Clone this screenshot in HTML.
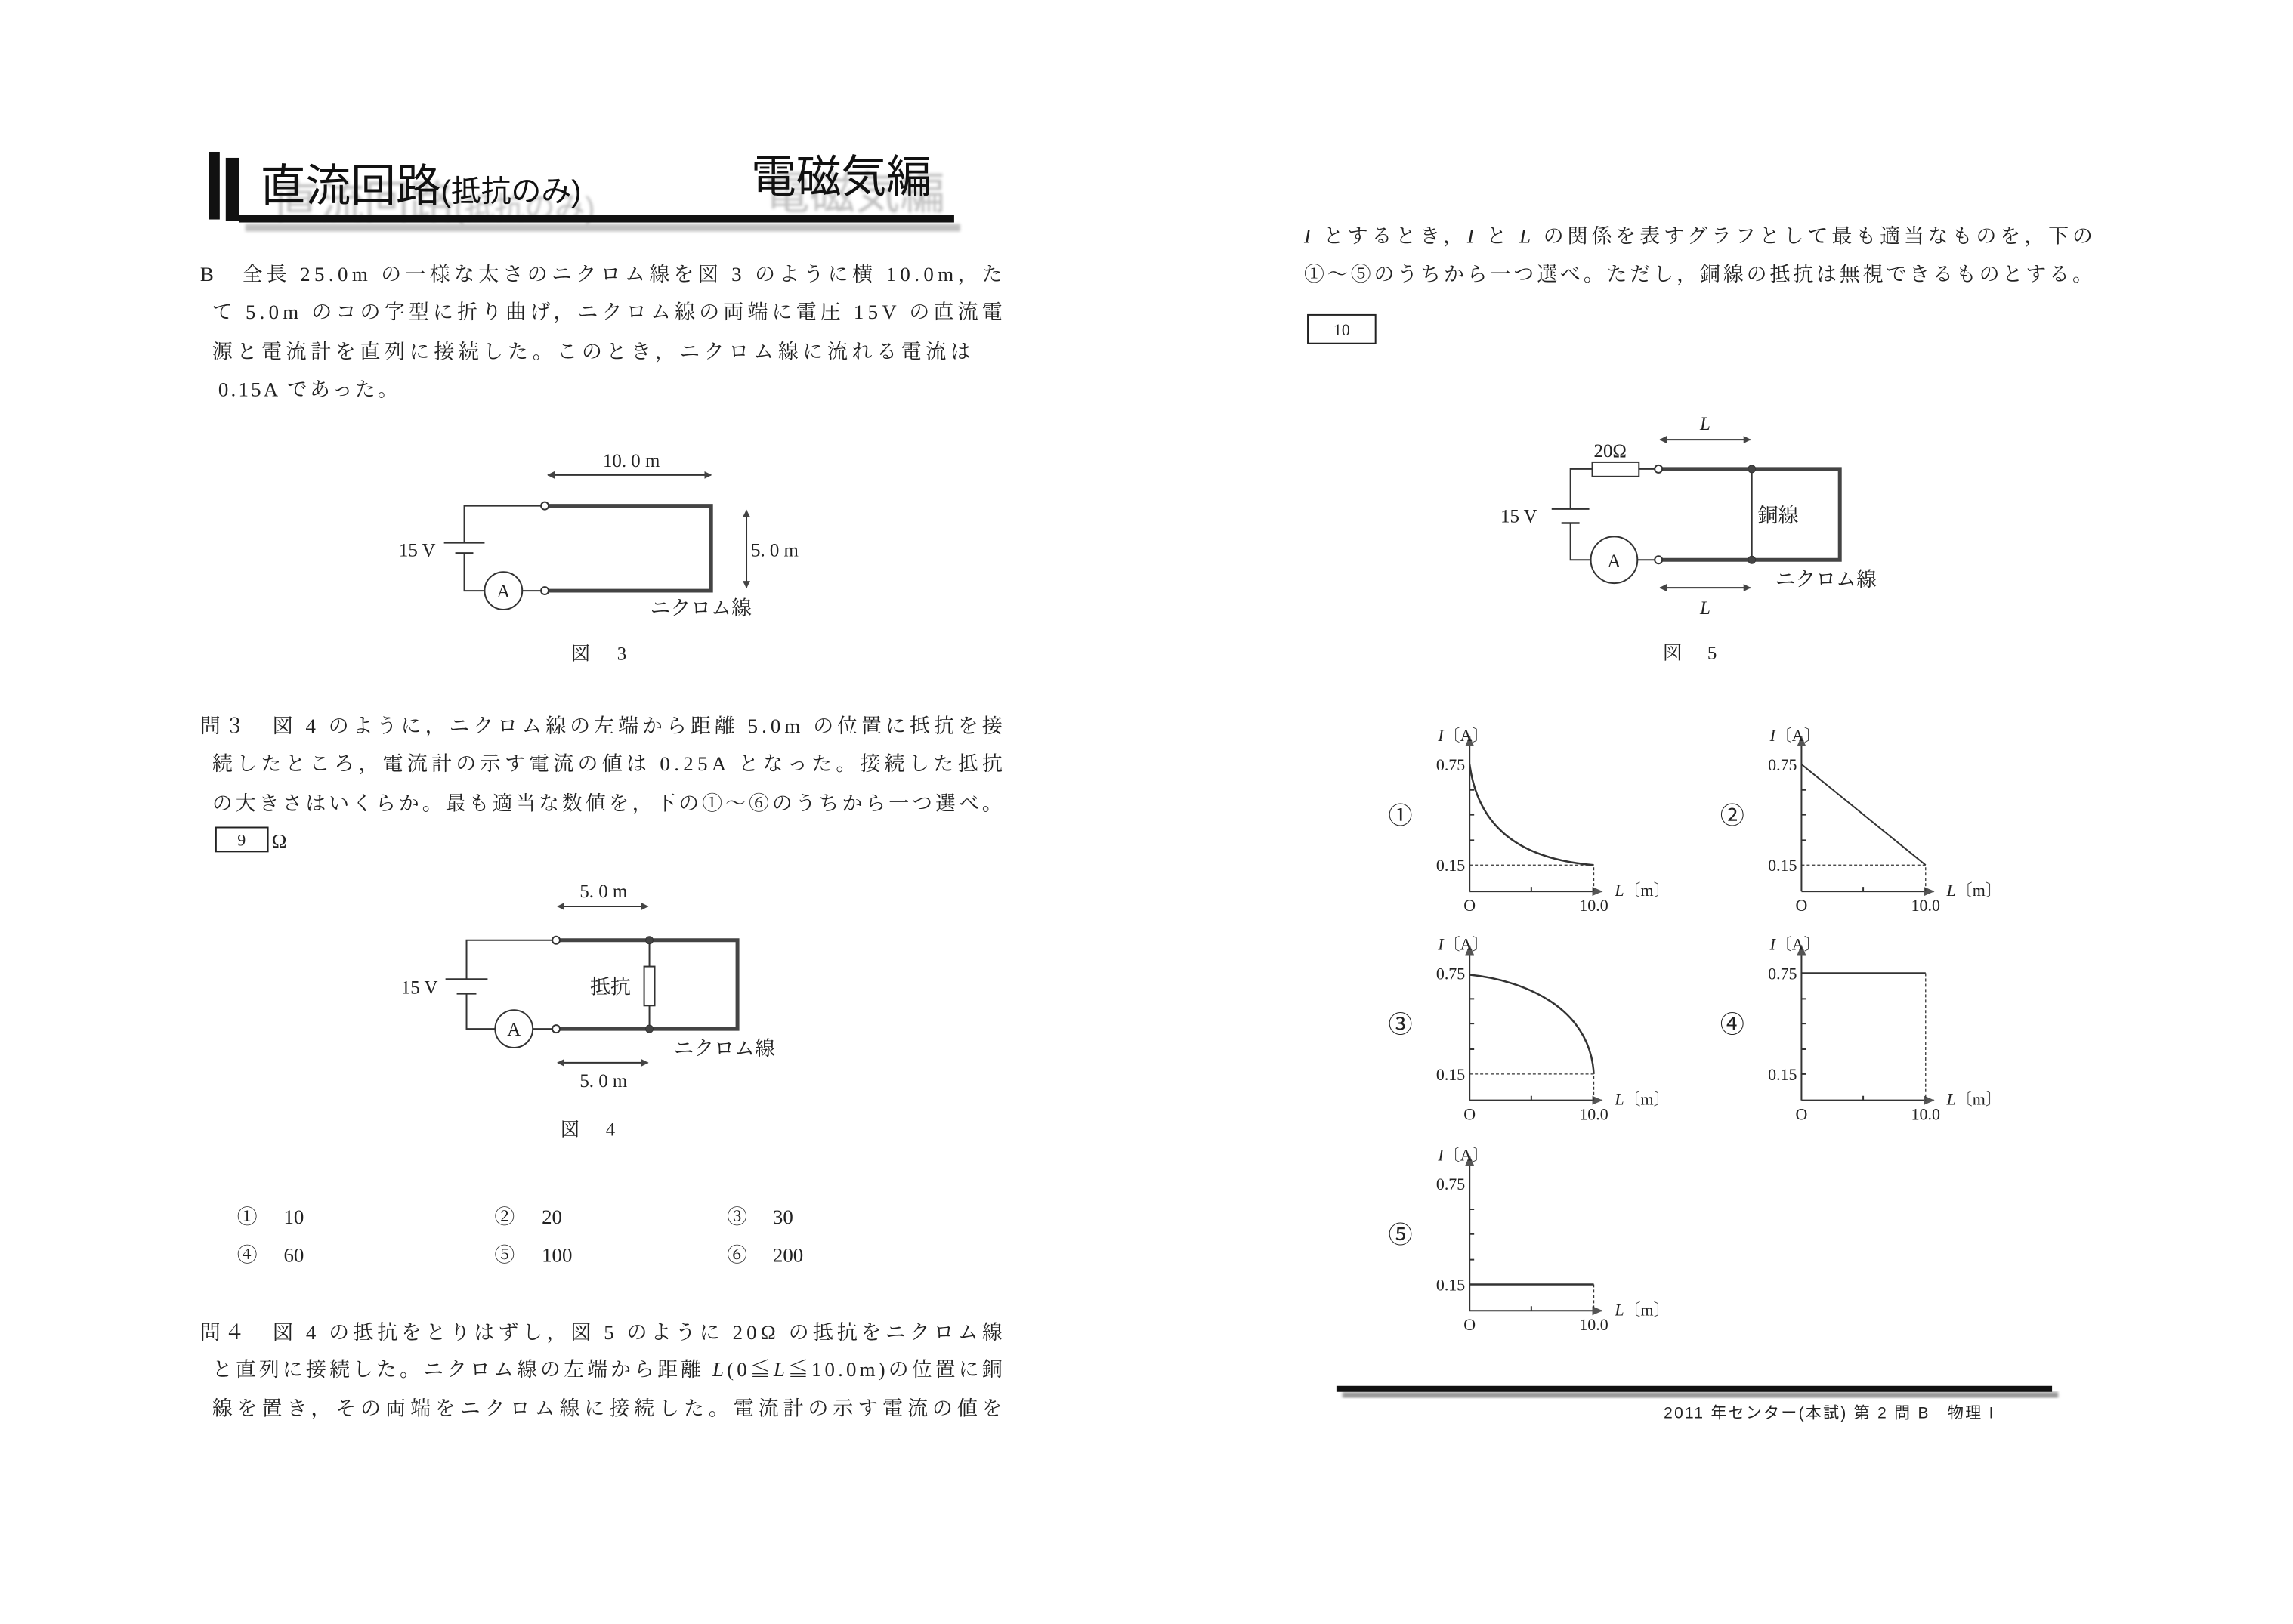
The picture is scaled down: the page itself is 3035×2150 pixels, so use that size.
<!DOCTYPE html>
<html><head><meta charset="utf-8"><style>
html,body{margin:0;padding:0;background:#fff;}
svg{display:block;}
.t{font-family:"Liberation Serif","Noto Serif CJK JP","Noto Serif CJK SC",serif;font-size:27px;fill:#222;}
.s{font-family:"Liberation Serif","Noto Serif CJK JP","Noto Serif CJK SC",serif;font-size:25px;fill:#222;}
.g{font-family:"Liberation Serif","Noto Serif CJK JP","Noto Serif CJK SC",serif;font-size:22px;fill:#222;}
.c{font-family:"Liberation Sans","Noto Sans CJK JP",sans-serif;font-size:32px;fill:#222;}
.h{font-family:"Liberation Sans","Noto Sans CJK JP",sans-serif;}
</style></head><body>
<svg width="3035" height="2150" viewBox="0 0 3035 2150" xmlns="http://www.w3.org/2000/svg">
<defs>
<filter id="bl"><feGaussianBlur stdDeviation="2"/></filter>
<marker id="ar" markerWidth="10" markerHeight="10" refX="9" refY="5" orient="auto-start-reverse" markerUnits="userSpaceOnUse"><path d="M0,0 L10,5 L0,10 z" fill="#444"/></marker>
<marker id="ar2" markerWidth="14" markerHeight="12" refX="13" refY="6" orient="auto" markerUnits="userSpaceOnUse"><path d="M0,0 L14,6 L0,12 z" fill="#555"/></marker>
</defs>
<g transform="scale(0.996,0.995)">
<!-- Header -->
<g filter="url(#bl)" opacity="0.45">
<text x="364" y="290" class="h" font-size="60" fill="#777">直流回路<tspan font-size="40">(抵抗のみ)</tspan></text>
<text x="1016" y="278" class="h" font-size="60" fill="#777">電磁気編</text>
<rect x="326" y="298" width="950" height="10" fill="#777"/>
</g>
<rect x="278" y="202" width="14" height="90" fill="#111"/>
<rect x="300" y="210" width="18" height="84" fill="#111"/>
<rect x="318" y="286" width="950" height="10" fill="#111"/>
<text x="346" y="268" class="h" font-size="60" fill="#111">直流回路<tspan font-size="40">(抵抗のみ)</tspan></text>
<text x="998" y="256" class="h" font-size="60" fill="#111">電磁気編</text>

<!-- Left text -->
<text class="t" x="266" y="374" textLength="1066" lengthAdjust="spacing">B　全長 25.0m の一様な太さのニクロム線を図 3 のように横 10.0m，た</text>
<text class="t" x="282" y="424" textLength="1050" lengthAdjust="spacing">て 5.0m のコの字型に折り曲げ，ニクロム線の両端に電圧 15V の直流電</text>
<text class="t" x="282" y="477" textLength="1008" lengthAdjust="spacing">源と電流計を直列に接続した。このとき，ニクロム線に流れる電流は</text>
<text class="t" x="290" y="527" textLength="239" lengthAdjust="spacing">0.15A であった。</text>

<!-- Fig 3 -->
<g stroke="#333" fill="none">
<polyline points="724,673 617,673 617,722" stroke-width="2"/>
<polyline points="617,736 617,786 644,786" stroke-width="2"/>
<line x1="694" y1="786" x2="719" y2="786" stroke-width="2"/>
<line x1="590" y1="722" x2="644" y2="722" stroke-width="2.5"/>
<line x1="605" y1="736" x2="629" y2="736" stroke-width="2.5"/>
<circle cx="669" cy="786" r="25" stroke-width="2"/>
<polyline points="729,673 945,673 945,786 729,786" stroke-width="5" stroke="#444"/>
<circle cx="724" cy="673" r="5" stroke-width="2" fill="#fff"/>
<circle cx="724" cy="786" r="5" stroke-width="2" fill="#fff"/>
<line x1="728" y1="632" x2="945" y2="632" stroke-width="2" marker-start="url(#ar)" marker-end="url(#ar)"/>
<line x1="992" y1="679" x2="992" y2="782" stroke-width="2" marker-start="url(#ar)" marker-end="url(#ar)"/>
</g>
<text class="s" x="839" y="621" text-anchor="middle">10. 0 m</text>
<text class="s" x="998" y="740">5. 0 m</text>
<text class="s" x="530" y="740">15 V</text>
<text class="s" x="669" y="795" text-anchor="middle">A</text>
<text class="t" x="864" y="818">ニクロム線</text>
<text class="s" x="759" y="878">図</text><text class="s" x="820" y="878">3</text>

<!-- Q3 -->
<text class="t" x="266" y="975" textLength="1066" lengthAdjust="spacing">問３　図 4 のように，ニクロム線の左端から距離 5.0m の位置に抵抗を接</text>
<text class="t" x="282" y="1025" textLength="1050" lengthAdjust="spacing">続したところ，電流計の示す電流の値は 0.25A となった。接続した抵抗</text>
<text class="t" x="282" y="1078" textLength="1050" lengthAdjust="spacing">の大きさはいくらか。最も適当な数値を，下の①～⑥のうちから一つ選べ。</text>
<rect x="287" y="1101" width="69" height="32" fill="none" stroke="#222" stroke-width="2"/>
<text class="g" x="321" y="1125" text-anchor="middle">9</text>
<text class="t" x="361" y="1128">Ω</text>

<!-- Fig 4 -->
<g stroke="#333" fill="none">
<polyline points="734,1251 620,1251 620,1303" stroke-width="2"/>
<polyline points="620,1322 620,1369 658,1369" stroke-width="2"/>
<line x1="708" y1="1369" x2="734" y2="1369" stroke-width="2"/>
<line x1="592" y1="1303" x2="648" y2="1303" stroke-width="2.5"/>
<line x1="607" y1="1322" x2="633" y2="1322" stroke-width="2.5"/>
<circle cx="683" cy="1369" r="25" stroke-width="2"/>
<polyline points="744,1251 980,1251 980,1369 744,1369" stroke-width="5" stroke="#444"/>
<line x1="863" y1="1251" x2="863" y2="1286" stroke-width="2"/>
<line x1="863" y1="1338" x2="863" y2="1369" stroke-width="2"/>
<rect x="856" y="1286" width="14" height="52" stroke-width="2" fill="#fff"/>
<circle cx="739" cy="1251" r="5" stroke-width="2" fill="#fff"/>
<circle cx="739" cy="1369" r="5" stroke-width="2" fill="#fff"/>
<circle cx="863" cy="1251" r="5" fill="#444"/>
<circle cx="863" cy="1369" r="5" fill="#444"/>
<line x1="741" y1="1206" x2="861" y2="1206" stroke-width="2" marker-start="url(#ar)" marker-end="url(#ar)"/>
<line x1="741" y1="1414" x2="861" y2="1414" stroke-width="2" marker-start="url(#ar)" marker-end="url(#ar)"/>
</g>
<text class="s" x="802" y="1194" text-anchor="middle">5. 0 m</text>
<text class="s" x="802" y="1446" text-anchor="middle">5. 0 m</text>
<text class="s" x="533" y="1322">15 V</text>
<text class="t" x="784" y="1322">抵抗</text>
<text class="s" x="683" y="1378" text-anchor="middle">A</text>
<text class="t" x="895" y="1404">ニクロム線</text>
<text class="s" x="745" y="1511">図</text><text class="s" x="805" y="1511">4</text>

<!-- choices -->
<g class="t">
<text x="315" y="1628">①</text><text x="377" y="1628">10</text>
<text x="657" y="1628">②</text><text x="720" y="1628">20</text>
<text x="966" y="1628">③</text><text x="1027" y="1628">30</text>
<text x="315" y="1679">④</text><text x="377" y="1679">60</text>
<text x="657" y="1679">⑤</text><text x="720" y="1679">100</text>
<text x="966" y="1679">⑥</text><text x="1027" y="1679">200</text>
</g>

<!-- Q4 -->
<text class="t" x="266" y="1782" textLength="1066" lengthAdjust="spacing">問４　図 4 の抵抗をとりはずし，図 5 のように 20Ω の抵抗をニクロム線</text>
<text class="t" x="282" y="1831" textLength="1050" lengthAdjust="spacing">と直列に接続した。ニクロム線の左端から距離 <tspan font-style="italic">L</tspan>(0≦<tspan font-style="italic">L</tspan>≦10.0m)の位置に銅</text>
<text class="t" x="282" y="1883" textLength="1050" lengthAdjust="spacing">線を置き，その両端をニクロム線に接続した。電流計の示す電流の値を</text>

<!-- Right text -->
<text class="t" x="1733" y="323" textLength="1048" lengthAdjust="spacing"><tspan font-style="italic">I</tspan> とするとき，<tspan font-style="italic">I</tspan> と <tspan font-style="italic">L</tspan> の関係を表すグラフとして最も適当なものを，下の</text>
<text class="t" x="1733" y="374" textLength="1048" lengthAdjust="spacing">①～⑤のうちから一つ選べ。ただし，銅線の抵抗は無視できるものとする。</text>
<rect x="1738" y="419" width="90" height="38" fill="none" stroke="#222" stroke-width="2"/>
<text class="g" x="1783" y="446" text-anchor="middle">10</text>

<!-- Fig 5 -->
<g stroke="#333" fill="none">
<polyline points="2116,624 2087,624 2087,677" stroke-width="2"/>
<polyline points="2087,696 2087,745 2114,745" stroke-width="2"/>
<line x1="2178" y1="624" x2="2199" y2="624" stroke-width="2"/>
<line x1="2176" y1="745" x2="2199" y2="745" stroke-width="2"/>
<line x1="2062" y1="677" x2="2112" y2="677" stroke-width="2.5"/>
<line x1="2075" y1="696" x2="2099" y2="696" stroke-width="2.5"/>
<rect x="2116" y="615" width="62" height="19" stroke-width="2"/>
<circle cx="2145" cy="745" r="31" stroke-width="2"/>
<polyline points="2209,624 2445,624 2445,745 2209,745" stroke-width="5" stroke="#444"/>
<line x1="2328" y1="624" x2="2328" y2="745" stroke-width="2"/>
<circle cx="2204" cy="624" r="5" stroke-width="2" fill="#fff"/>
<circle cx="2204" cy="745" r="5" stroke-width="2" fill="#fff"/>
<circle cx="2328" cy="624" r="5" fill="#444"/>
<circle cx="2328" cy="745" r="5" fill="#444"/>
<line x1="2206" y1="585" x2="2326" y2="585" stroke-width="2" marker-start="url(#ar)" marker-end="url(#ar)"/>
<line x1="2206" y1="782" x2="2326" y2="782" stroke-width="2" marker-start="url(#ar)" marker-end="url(#ar)"/>
</g>
<text class="s" x="2266" y="572" font-style="italic" text-anchor="middle">L</text>
<text class="s" x="2266" y="817" font-style="italic" text-anchor="middle">L</text>
<text class="s" x="2118" y="608">20Ω</text>
<text class="s" x="1994" y="695">15 V</text>
<text class="t" x="2336" y="695">銅線</text>
<text class="s" x="2145" y="755" text-anchor="middle">A</text>
<text class="t" x="2359" y="780">ニクロム線</text>
<text class="s" x="2210" y="877">図</text><text class="s" x="2269" y="877">5</text>

<!-- graph 1 -->
<g transform="translate(1953,1186)">
<g stroke="#333" fill="none" stroke-width="2">
<line x1="0" y1="0" x2="0" y2="-206" marker-end="url(#ar2)"/>
<line x1="0" y1="0" x2="176" y2="0" marker-end="url(#ar2)"/>
<path d="M0,-135h6M0,-102h6M0,-68h6M82,0v-6"/>
<path d="M0,-35H165V0" stroke-dasharray="4,3" stroke-width="1.3"/>
<path d="M0,-169 C8,-110 40,-45 165,-35" stroke-width="2.5"/>
</g>
<text class="g" x="-42" y="-200"><tspan font-style="italic">I</tspan>〔A〕</text>
<text class="g" x="-6" y="-161" text-anchor="end">0.75</text>
<text class="g" x="-6" y="-27" text-anchor="end">0.15</text>
<text class="g" x="0" y="26" text-anchor="middle">O</text>
<text class="g" x="165" y="26" text-anchor="middle">10.0</text>
<text class="g" x="193" y="6"><tspan font-style="italic">L</tspan>〔m〕</text>
<text class="c" x="-92" y="-90" text-anchor="middle">①</text>
</g>
<!-- graph 2 -->
<g transform="translate(2394,1186)">
<g stroke="#333" fill="none" stroke-width="2">
<line x1="0" y1="0" x2="0" y2="-206" marker-end="url(#ar2)"/>
<line x1="0" y1="0" x2="176" y2="0" marker-end="url(#ar2)"/>
<path d="M0,-135h6M0,-102h6M0,-68h6M82,0v-6"/>
<path d="M0,-35H165V0" stroke-dasharray="4,3" stroke-width="1.3"/>
<path d="M0,-169 L165,-35" stroke-width="2"/>
</g>
<text class="g" x="-42" y="-200"><tspan font-style="italic">I</tspan>〔A〕</text>
<text class="g" x="-6" y="-161" text-anchor="end">0.75</text>
<text class="g" x="-6" y="-27" text-anchor="end">0.15</text>
<text class="g" x="0" y="26" text-anchor="middle">O</text>
<text class="g" x="165" y="26" text-anchor="middle">10.0</text>
<text class="g" x="193" y="6"><tspan font-style="italic">L</tspan>〔m〕</text>
<text class="c" x="-92" y="-90" text-anchor="middle">②</text>
</g>
<!-- graph 3 -->
<g transform="translate(1953,1464)">
<g stroke="#333" fill="none" stroke-width="2">
<line x1="0" y1="0" x2="0" y2="-206" marker-end="url(#ar2)"/>
<line x1="0" y1="0" x2="176" y2="0" marker-end="url(#ar2)"/>
<path d="M0,-135h6M0,-102h6M0,-68h6M82,0v-6"/>
<path d="M0,-35H165V0" stroke-dasharray="4,3" stroke-width="1.3"/>
<path d="M0,-167 C70,-160 160,-125 165,-35" stroke-width="2.5"/>
</g>
<text class="g" x="-42" y="-200"><tspan font-style="italic">I</tspan>〔A〕</text>
<text class="g" x="-6" y="-161" text-anchor="end">0.75</text>
<text class="g" x="-6" y="-27" text-anchor="end">0.15</text>
<text class="g" x="0" y="26" text-anchor="middle">O</text>
<text class="g" x="165" y="26" text-anchor="middle">10.0</text>
<text class="g" x="193" y="6"><tspan font-style="italic">L</tspan>〔m〕</text>
<text class="c" x="-92" y="-90" text-anchor="middle">③</text>
</g>
<!-- graph 4 -->
<g transform="translate(2394,1464)">
<g stroke="#333" fill="none" stroke-width="2">
<line x1="0" y1="0" x2="0" y2="-206" marker-end="url(#ar2)"/>
<line x1="0" y1="0" x2="176" y2="0" marker-end="url(#ar2)"/>
<path d="M0,-135h6M0,-102h6M0,-68h6M0,-35h6M82,0v-6"/>
<path d="M165,-169V0" stroke-dasharray="4,3" stroke-width="1.3"/>
<path d="M0,-169 H165" stroke-width="2.5"/>
</g>
<text class="g" x="-42" y="-200"><tspan font-style="italic">I</tspan>〔A〕</text>
<text class="g" x="-6" y="-161" text-anchor="end">0.75</text>
<text class="g" x="-6" y="-27" text-anchor="end">0.15</text>
<text class="g" x="0" y="26" text-anchor="middle">O</text>
<text class="g" x="165" y="26" text-anchor="middle">10.0</text>
<text class="g" x="193" y="6"><tspan font-style="italic">L</tspan>〔m〕</text>
<text class="c" x="-92" y="-90" text-anchor="middle">④</text>
</g>
<!-- graph 5 -->
<g transform="translate(1953,1744)">
<g stroke="#333" fill="none" stroke-width="2">
<line x1="0" y1="0" x2="0" y2="-206" marker-end="url(#ar2)"/>
<line x1="0" y1="0" x2="176" y2="0" marker-end="url(#ar2)"/>
<path d="M0,-135h6M0,-102h6M0,-68h6M82,0v-6"/>
<path d="M165,-35V0" stroke-dasharray="4,3" stroke-width="1.3"/>
<path d="M0,-35 H165" stroke-width="2.5"/>
</g>
<text class="g" x="-42" y="-200"><tspan font-style="italic">I</tspan>〔A〕</text>
<text class="g" x="-6" y="-161" text-anchor="end">0.75</text>
<text class="g" x="-6" y="-27" text-anchor="end">0.15</text>
<text class="g" x="0" y="26" text-anchor="middle">O</text>
<text class="g" x="165" y="26" text-anchor="middle">10.0</text>
<text class="g" x="193" y="6"><tspan font-style="italic">L</tspan>〔m〕</text>
<text class="c" x="-92" y="-90" text-anchor="middle">⑤</text>
</g>

<!-- footer -->
<rect x="1784" y="1852" width="951" height="8" fill="#999" filter="url(#bl)"/>
<rect x="1776" y="1844" width="951" height="8" fill="#111"/>
<text x="2211" y="1887" class="h" font-size="21" fill="#222" textLength="438" lengthAdjust="spacing">2011 年センター(本試) 第 2 問 B　物理 I</text>
</g>
</svg>
</body></html>
